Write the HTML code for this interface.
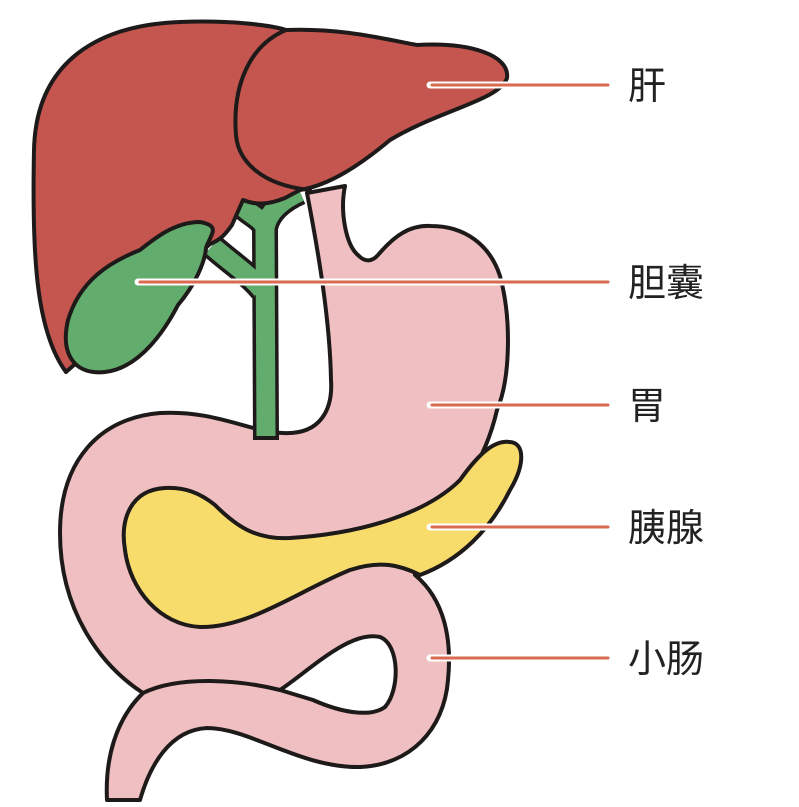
<!DOCTYPE html>
<html><head><meta charset="utf-8"><style>
html,body{margin:0;padding:0;background:#fff;}
svg{display:block;}
text{font-family:"Liberation Sans","Noto Sans CJK SC",sans-serif;font-size:38px;fill:#222;}
</style></head><body>
<svg width="799" height="807" viewBox="0 0 799 807" xmlns="http://www.w3.org/2000/svg">
<g stroke="#1e1a1a" stroke-width="4" stroke-linejoin="round" stroke-linecap="round">
<!-- stomach + intestine -->
<path fill="#efbfc2" d="M 345,186 C 340,210 345,245 359,256 C 365,262 372,262 378,255 C 395,235 410,225 431,226 C 465,226 490,245 500,276 C 512,320 510,380 497,410 C 490,440 480,460 470,475 L 475,530 C 440,560 420,570 415,575 C 445,600 452,640 448,680 C 444,730 410,765 360,767 C 300,768 250,728 207,728 C 170,730 150,765 140,800 L 107,800 C 105,760 115,720 143,693 C 100,665 60,610 60,533 C 60,460 100,418 160,413 C 215,410 250,432 283,433 C 320,435 333,410 331,380 C 330,320 318,250 307,193 Z"/>
<path fill="none" d="M 143,693 C 180,675 240,680 280,690"/>
<path fill="#fff" d="M 280,690 C 310,670 350,630 380,637 C 400,645 400,690 385,707 C 370,718 340,712 313,700 Z"/>
<!-- pancreas -->
<path fill="#f7dc6b" d="M 165,488 C 130,490 120,520 125,550 C 130,590 160,625 200,627 C 250,628 300,590 350,570 C 380,560 400,565 420,575 C 460,560 490,530 510,490 C 525,465 525,443 510,442 C 495,440 480,452 460,480 C 430,510 370,533 290,538 C 255,540 235,525 215,505 C 200,493 185,487 165,488 Z"/>
<!-- bile ducts (under liver) -->
<g fill="none" stroke-linecap="butt">
<path stroke-width="26" d="M 241,205 C 250,215 262,218 265,228 M 300,192 C 282,200 268,212 265,228 L 266,440 M 212,246 C 230,262 250,275 262,290"/>
<path stroke="#62ad6e" stroke-width="19" d="M 241,205 C 250,215 262,218 265,228 M 300,192 C 282,200 268,212 265,228 L 266,436 M 212,246 C 230,262 250,275 262,290"/>
</g>
<!-- liver -->
<path fill="#c4554f" d="M 66,372 C 35,330 32,250 34,150 C 36,60 100,25 180,22 C 230,20 270,25 286,30 C 340,28 380,38 417,45 C 470,42 510,55 507,78 C 500,100 440,110 390,140 C 360,165 330,185 300,190 L 285,198 C 268,205 255,205 243,200 L 232,225 C 225,235 220,240 210,244 L 66,372 Z"/>
<path fill="none" d="M 286,30 C 250,45 232,85 236,135 C 238,160 260,185 310,190"/>
<!-- gallbladder -->
<path fill="#62ad6e" d="M 200,222 C 175,222 155,238 140,250 C 110,262 80,280 68,320 C 60,355 75,375 105,372 C 140,368 165,330 178,305 C 195,285 205,262 206,248 C 210,235 222,226 200,222 Z"/>
</g>
<!-- label lines -->
<g stroke-linecap="round">
<g stroke="#fff" stroke-width="7">
<line x1="430" y1="85" x2="608" y2="85"/><line x1="138" y1="282" x2="608" y2="282"/>
<line x1="430" y1="405" x2="608" y2="405"/><line x1="430" y1="527" x2="608" y2="527"/>
<line x1="430" y1="658" x2="608" y2="658"/>
</g>
<g stroke="#d9694f" stroke-width="3">
<line x1="432" y1="85" x2="608" y2="85"/><line x1="140" y1="282" x2="608" y2="282"/>
<line x1="432" y1="405" x2="608" y2="405"/><line x1="432" y1="527" x2="608" y2="527"/>
<line x1="432" y1="658" x2="608" y2="658"/>
</g>
</g>
<text x="628" y="99">肝</text>
<text x="628" y="296">胆囊</text>
<text x="628" y="419">胃</text>
<text x="628" y="541">胰腺</text>
<text x="628" y="672">小肠</text>
</svg>
</body></html>
